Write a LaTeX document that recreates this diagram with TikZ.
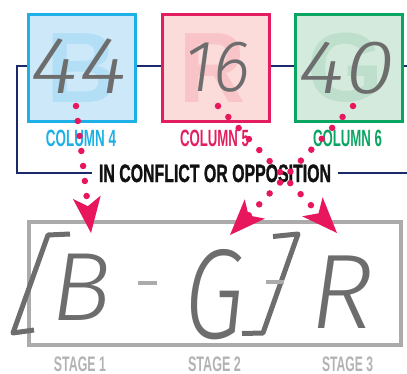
\documentclass[tikz,border=0pt]{standalone}
\usepackage{fontspec}
\usepackage{graphicx}
\usetikzlibrary{arrows.meta}
\setmainfont{Liberation Sans}
\newfontfamily\labfont{Liberation Sans}
\newfontfamily\heavyfont{Liberation Sans}[BoldFeatures={FakeBold=1.5}]
\newfontfamily\handfont{Fira Sans Light Italic}
\definecolor{cblue}{HTML}{1CB0E6}
\definecolor{cbluefill}{HTML}{CDE9F9}
\definecolor{cblueltr}{HTML}{B2DEF6}
\definecolor{cred}{HTML}{E41E5E}
\definecolor{credfill}{HTML}{FCDBDB}
\definecolor{credltr}{HTML}{F8C4C7}
\definecolor{cgreen}{HTML}{0AA562}
\definecolor{cgreenfill}{HTML}{D4EADC}
\definecolor{cgreenltr}{HTML}{BDDFCB}
\definecolor{navy}{HTML}{1B2A6B}
\definecolor{dgray}{HTML}{6D6D6D}
\definecolor{lgray}{HTML}{ABABAB}
\definecolor{stagegray}{HTML}{B3B3B3}
\definecolor{crimson}{HTML}{E8175D}
\definecolor{inkblack}{HTML}{111111}
% #1 target width (pt), #2 font size (pt), #3 text
\newcommand\fitW[3]{{\fontsize{#2pt}{#2pt}\selectfont\resizebox{#1pt}{\height}{#3}}}
\tikzset{
  txt/.style={inner sep=0pt, anchor=base},
  colbox/.style={draw, line width=3pt, minimum size=107pt, inner sep=0pt},
  navyline/.style={navy, line width=2pt},
  bracket/.style={dgray, line width=5pt, line join=round},
  dashmark/.style={lgray, line width=4pt},
  dotarrow/.style={crimson, line width=6.5pt, line cap=round, dash pattern=on 0pt off 15.1pt,
    -{Stealth[length=36pt,width=28pt,inset=9pt,line width=0pt]}},
}
\begin{document}
\begin{tikzpicture}[x=1pt,y=-1pt]
\useasboundingbox (0,0) rectangle (407,373);
% conflict label
\node[txt, inner xsep=7pt, text=inkblack] (conf) at (215,182) {\heavyfont\bfseries\fitW{232}{25.1}{IN CONFLICT OR OPPOSITION}};
% navy connector
\coordinate (nr) at (407,65.5);
\coordinate (nl) at (17,65.5);
\coordinate (bl) at (17,173);
\coordinate (br) at (407,173);
\draw[navyline] (nr) -- (nl) -- (bl) -- (bl -| conf.west);
\draw[navyline] (br -| conf.east) -- (br);
% boxes
\node[colbox, draw=cblue, fill=cbluefill] (box1) at (82,67.5) {};
\node[colbox, draw=cred, fill=credfill] (box2) at (215.5,67.5) {};
\node[colbox, draw=cgreen, fill=cgreenfill] (box3) at (348.5,67.5) {};
% background letters
\node[txt, text=cblueltr] (lb) at (82.5,102) {\labfont\bfseries\fitW{71}{100}{B}};
\node[txt, text=credltr] (lr) at (213,102) {\labfont\bfseries\fitW{66}{100}{R}};
\node[txt, text=cgreenltr] (lg) at (345.5,101) {\labfont\bfseries\fitW{76}{98}{G}};
% numbers
\node[txt, text=dgray] (n44) at (79,93) {\handfont\fitW{96}{81}{44}};
\node[txt, text=dgray] (n16) at (217,91) {\handfont\fitW{66}{73}{16}};
\node[txt, text=dgray] (n40) at (346.5,93) {\handfont\fitW{96}{76}{40}};
% column labels
\node[txt, text=cblue] (c4) at (81,146) {\labfont\bfseries\fitW{70}{23.5}{COLUMN 4}};
\node[txt, text=cred] (c5) at (214.5,146) {\labfont\bfseries\fitW{69}{23.5}{COLUMN 5}};
\node[txt, text=cgreen] (c6) at (347.5,146) {\labfont\bfseries\fitW{69}{23.5}{COLUMN 6}};
% bottom frame
\node[draw=lgray, line width=4pt, minimum width=372pt, minimum height=123pt, inner sep=0pt] (frame) at (214.5,283.5) {};
% brackets
\draw[bracket] (70,234) -- (48,235) -- (13,333) -- (34,330);
\draw[bracket] (273,236.5) -- (298,234) -- (263,333) -- (242,333.5);
\draw[dashmark] (138,283) -- (157,283);
\draw[dashmark] (266,282) -- (284,282);
% bottom letters
\node[txt, text=dgray] (sb) at (81,320) {\handfont\fitW{60}{97}{B}};
\node[txt, text=dgray] (sg) at (214,338) {\handfont\fitW{60}{128}{G}};
\node[txt, text=dgray] (sr) at (342,328) {\handfont\fitW{63}{106}{R}};
% stage labels
\node[txt, text=stagegray] (s1) at (80,371) {\labfont\bfseries\fitW{52}{21}{STAGE 1}};
\node[txt, text=stagegray] (s2) at (214.5,371) {\labfont\bfseries\fitW{53}{21}{STAGE 2}};
\node[txt, text=stagegray] (s3) at (347.5,371) {\labfont\bfseries\fitW{51}{21}{STAGE 3}};
% dotted arrows
\coordinate (p1s) at (76,106);
\coordinate (p1e) at (91,233);
\coordinate (p2s) at (218,106);
\coordinate (p2e) at (337,233);
\coordinate (p3s) at (353,106);
\coordinate (p3e) at (230,235);
\draw[dotarrow] (p1s) -- (p1e);
\draw[dotarrow] (p2s) -- (p2e);
\draw[dotarrow] (p3s) -- (p3e);
\end{tikzpicture}
\end{document}
